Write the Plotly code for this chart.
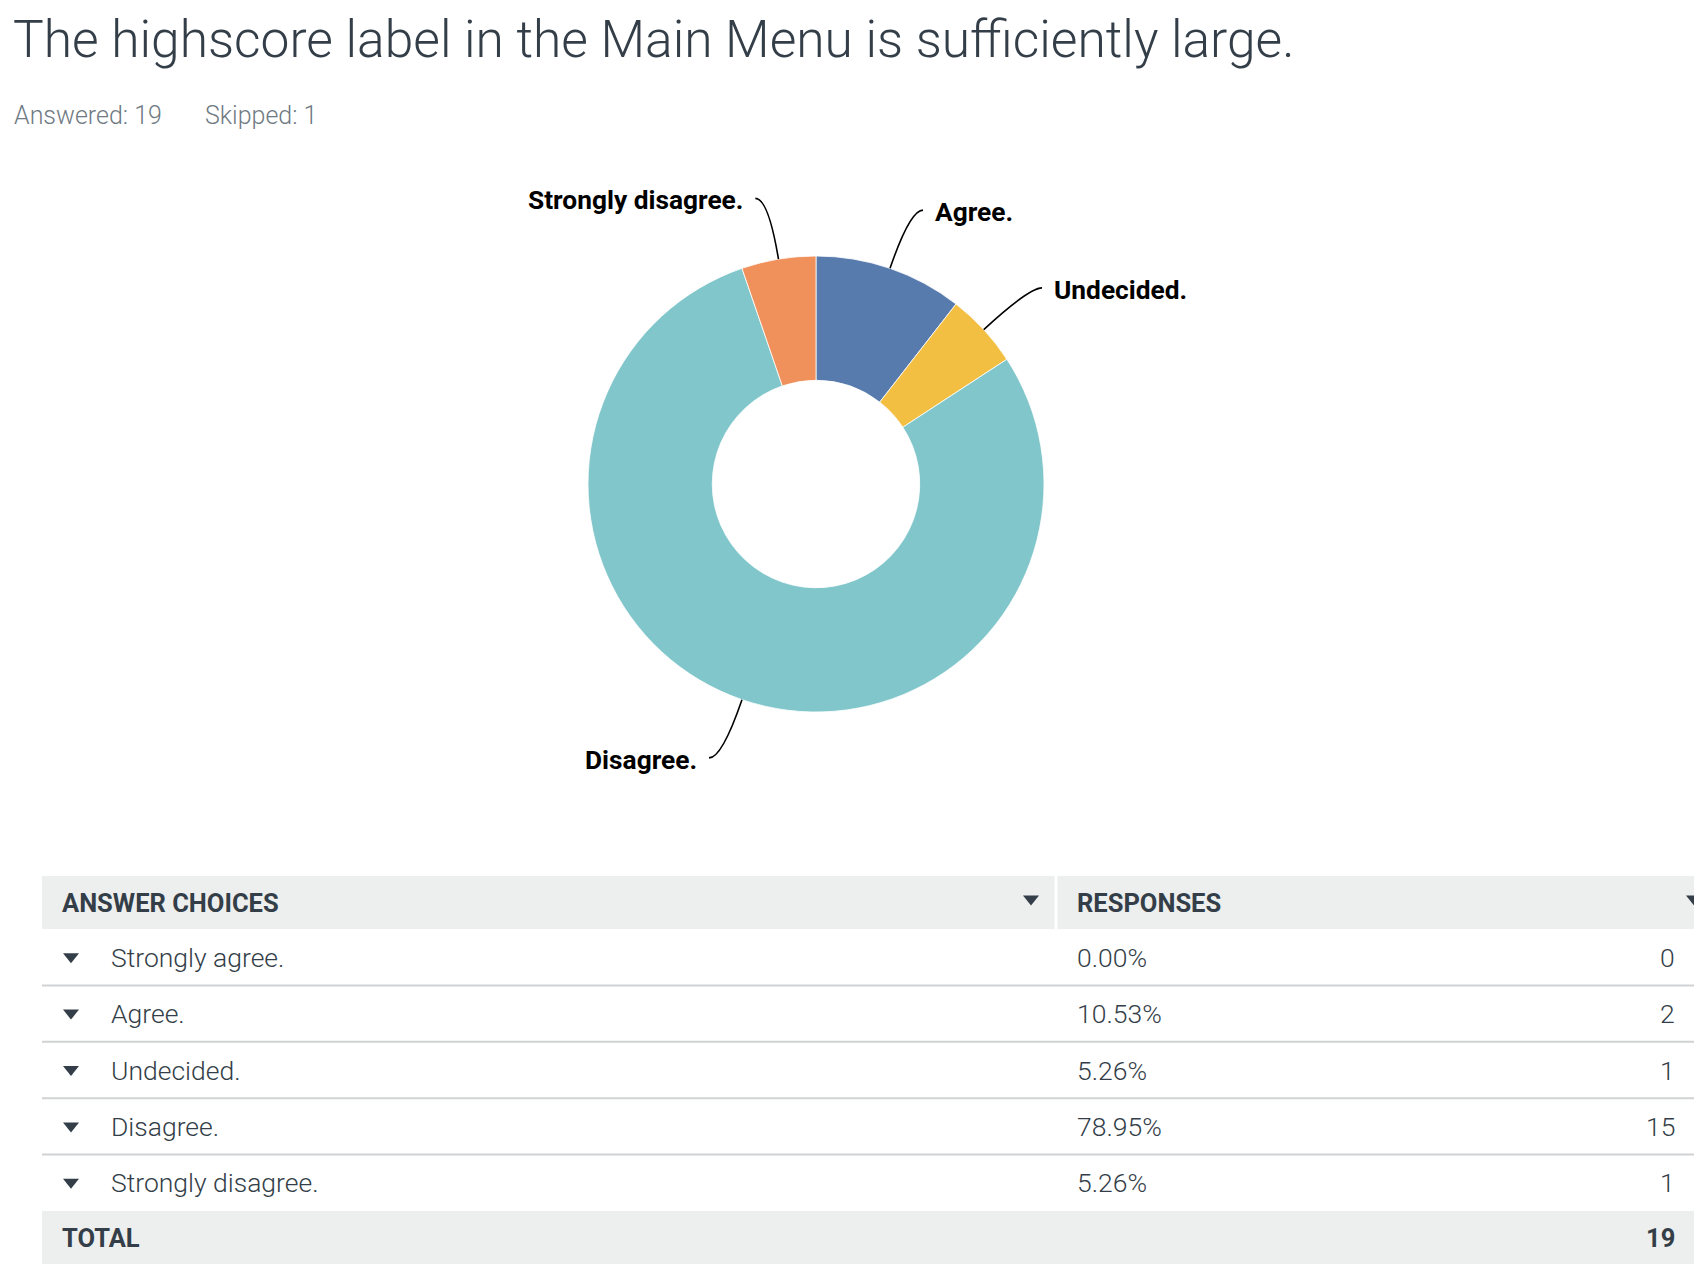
import math
import plotly.graph_objects as go

# ---------------- data ----------------
title_text = "The highscore label in the Main Menu is sufficiently large."
answered = 19
skipped = 1
categories = ["Strongly agree.", "Agree.", "Undecided.", "Disagree.", "Strongly disagree."]
counts = [0, 2, 1, 15, 1]
slice_colors = ["#6bc8cd", "#587bae", "#f3bf42", "#80c6ca", "#f0915c"]
header_labels = ["ANSWER CHOICES", "RESPONSES"]
total_label = "TOTAL"

# ---------------- layout constants (pixels) ----------------
W, H = 1694, 1268
TEXT = "#333e48"
FONT = "Roboto"


def px(x):
    return x / W


def py(y):
    return 1 - y / H


total = sum(counts)
percents = [f"{c / total * 100:.2f}%" for c in counts]

# pie geometry
cx, cy, R = 816, 484, 228
hole = 0.455

fig = go.Figure()
fig.add_trace(go.Pie(
    labels=categories,
    values=counts,
    sort=False,
    direction="clockwise",
    rotation=0,
    hole=hole,
    textinfo="none",
    hoverinfo="label+percent",
    marker=dict(colors=slice_colors, line=dict(color="white", width=0.8)),
    domain=dict(x=[px(cx - R), px(cx + R)], y=[py(cy + R), py(cy - R)]),
    showlegend=False,
))

shapes = []
annotations = []

# title & subtitle
annotations.append(dict(text=title_text, x=px(11), y=py(39), xref="paper", yref="paper",
                        xanchor="left", yanchor="middle", showarrow=False,
                        font=dict(family=FONT, size=51.5, color=TEXT, weight=300)))
annotations.append(dict(text=f"Answered: {answered}", x=px(12), y=py(116), xref="paper", yref="paper",
                        xanchor="left", yanchor="middle", showarrow=False,
                        font=dict(family=FONT, size=25, color="#6f7a83", weight=300)))
annotations.append(dict(text=f"Skipped: {skipped}", x=px(203), y=py(116), xref="paper", yref="paper",
                        xanchor="left", yanchor="middle", showarrow=False,
                        font=dict(family=FONT, size=25, color="#6f7a83", weight=300)))

# leader lines and slice labels, computed from slice angles
cum = 0
for lab, c in zip(categories, counts):
    if c == 0:
        continue
    mid = (cum + c / 2) / total * 2 * math.pi
    cum += c
    s, co = math.sin(mid), math.cos(mid)
    side = 1 if s >= 0 else -1
    x0, y0 = cx + R * s, cy - R * co
    xc, yc = cx + 1.27 * R * s, cy - 1.27 * R * co
    x2, y2 = xc + side * 13, yc
    shapes.append(dict(type="path", xref="paper", yref="paper",
                       path=f"M {px(x0)},{py(y0)} Q {px(xc)},{py(yc)} {px(x2)},{py(y2)}",
                       line=dict(color="black", width=1.6)))
    annotations.append(dict(text=f"<b>{lab}</b>", x=px(x2 + side * 10), y=py(y2 + 2), xref="paper", yref="paper",
                            xanchor="left" if side > 0 else "right", yanchor="middle", showarrow=False,
                            font=dict(family=FONT, size=26.3, color="black")))

# ---------------- table ----------------
tab_left = 42
col2 = 1056
head_top, head_h = 876, 53
row_h = 56.4
rows_top = head_top + head_h
total_top = rows_top + row_h * len(categories)
total_h = 53
right_num = 1677


def tri(xc_, yc_, w=13, h=8, color=TEXT):
    return dict(type="path", xref="paper", yref="paper",
                path=f"M {px(xc_ - w / 2)},{py(yc_ - h / 2)} L {px(xc_ + w / 2)},{py(yc_ - h / 2)} L {px(xc_)},{py(yc_ + h / 2)} Z",
                fillcolor=color, line=dict(width=0))


# header background
shapes.append(dict(type="rect", xref="paper", yref="paper", x0=px(tab_left), x1=px(W + 5),
                   y0=py(head_top), y1=py(head_top + head_h), fillcolor="#edeeee", line=dict(width=0), layer="below"))
shapes.append(dict(type="line", xref="paper", yref="paper", x0=px(col2), x1=px(col2),
                   y0=py(head_top), y1=py(head_top + head_h), line=dict(color="white", width=3)))
hy = head_top + head_h / 2
annotations.append(dict(text=f"<b>{header_labels[0]}</b>", x=px(60), y=py(hy), xref="paper", yref="paper",
                        xanchor="left", yanchor="middle", showarrow=False,
                        font=dict(family=FONT, size=25.5, color=TEXT)))
annotations.append(dict(text=f"<b>{header_labels[1]}</b>", x=px(1075), y=py(hy), xref="paper", yref="paper",
                        xanchor="left", yanchor="middle", showarrow=False,
                        font=dict(family=FONT, size=25.5, color=TEXT)))
shapes.append(tri(1031, hy - 2, w=16, h=10))
shapes.append(tri(1694, hy - 2, w=16, h=10))

# rows
for i, (lab, pct, c) in enumerate(zip(categories, percents, counts)):
    top = rows_top + i * row_h
    yc_ = top + row_h / 2
    shapes.append(tri(71, yc_ + 1, w=16, h=10))
    annotations.append(dict(text=lab, x=px(109), y=py(yc_), xref="paper", yref="paper",
                            xanchor="left", yanchor="middle", showarrow=False,
                            font=dict(family=FONT, size=26.5, color=TEXT, weight=300)))
    annotations.append(dict(text=pct, x=px(1075), y=py(yc_), xref="paper", yref="paper",
                            xanchor="left", yanchor="middle", showarrow=False,
                            font=dict(family=FONT, size=26.5, color=TEXT, weight=300)))
    annotations.append(dict(text=str(c), x=px(right_num), y=py(yc_), xref="paper", yref="paper",
                            xanchor="right", yanchor="middle", showarrow=False,
                            font=dict(family=FONT, size=26.5, color=TEXT, weight=300)))
    if i < len(categories) - 1:
        shapes.append(dict(type="line", xref="paper", yref="paper", x0=px(tab_left), x1=px(W + 5),
                           y0=py(top + row_h), y1=py(top + row_h), line=dict(color="#d0d2d3", width=2)))

# total row
shapes.append(dict(type="rect", xref="paper", yref="paper", x0=px(tab_left), x1=px(W + 5),
                   y0=py(total_top), y1=py(total_top + total_h), fillcolor="#edeeee", line=dict(width=0), layer="below"))
ty = total_top + total_h / 2
annotations.append(dict(text=f"<b>{total_label}</b>", x=px(60), y=py(ty), xref="paper", yref="paper",
                        xanchor="left", yanchor="middle", showarrow=False,
                        font=dict(family=FONT, size=25.5, color=TEXT)))
annotations.append(dict(text=f"<b>{total}</b>", x=px(right_num), y=py(ty), xref="paper", yref="paper",
                        xanchor="right", yanchor="middle", showarrow=False,
                        font=dict(family=FONT, size=25.5, color=TEXT)))

fig.update_layout(
    width=W, height=H,
    margin=dict(l=0, r=0, t=0, b=0),
    paper_bgcolor="white", plot_bgcolor="white",
    shapes=shapes, annotations=annotations,
    showlegend=False,
)

fig.write_html("out.html")
